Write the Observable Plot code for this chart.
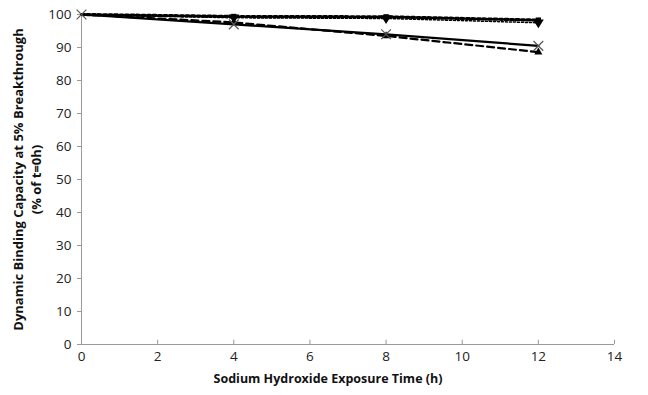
<!DOCTYPE html>
<html>
<head>
<meta charset="utf-8">
<script src="https://cdn.jsdelivr.net/npm/d3@7"></script>
<script src="https://cdn.jsdelivr.net/npm/@observablehq/plot@0.6"></script>
<style>
  body { margin: 0; background: #fff; }
  svg { font-family: "Open Sans", "Liberation Sans", sans-serif; }
</style>
</head>
<body>
<div id="chart"></div>
<script>
const times = [0, 4, 8, 12];
const squareSeries = [100, 99.4, 99.3, 98.3];
const downSeries = [100, 99.0, 98.8, 97.5];
const crossSeries = [100, 97.0, 94.0, 90.5];
const triangleSeries = [100, 97.6, 93.5, 88.6];
const xTicks = [0, 2, 4, 6, 8, 10, 12, 14];
const yTicks = [0, 10, 20, 30, 40, 50, 60, 70, 80, 90, 100];
const xLabel = "Sodium Hydroxide Exposure Time (h)";
const yLabel1 = "Dynamic Binding Capacity at 5% Breakthrough";
const yLabel2 = "(% of t=0h)";

const toRows = (vals) => times.map((t, i) => ({t, v: vals[i]}));
const sq = toRows(squareSeries), dn = toRows(downSeries), cr = toRows(crossSeries), tr = toRows(triangleSeries);

const downTriangle = {
  draw(ctx, size) {
    const r = Math.sqrt(size / 1.3);
    ctx.moveTo(-r, -r * 0.6);
    ctx.lineTo(r, -r * 0.6);
    ctx.lineTo(0, r);
    ctx.closePath();
  }
};

const chart = Plot.plot({
  width: 648,
  height: 395,
  marginLeft: 81,
  marginRight: 34,
  marginTop: 14,
  marginBottom: 51,
  x: {domain: [0, 14]},
  y: {domain: [0, 100]},
  marks: [
    Plot.ruleY([0], {stroke: "#999"}),
    Plot.ruleX([0], {stroke: "#999"}),
    Plot.axisX({ticks: xTicks, tickSize: 0, tickPadding: 7, fontSize: 13.5, label: null, color: "#222"}),
    Plot.ruleX(xTicks, {x: d => d, y1: 0, y2: 1.3, stroke: "#999"}),
    Plot.axisY({ticks: yTicks, tickSize: 4, tickPadding: 6, fontSize: 13.5, label: null, stroke: "#999", color: "#222"}),
    Plot.line(cr, {x: "t", y: "v", stroke: "black", strokeWidth: 2.2}),
    Plot.line(tr, {x: "t", y: "v", stroke: "black", strokeWidth: 2.2, strokeDasharray: "7,4"}),
    Plot.line(dn, {x: "t", y: "v", stroke: "black", strokeWidth: 1.5, strokeDasharray: "2,2"}),
    Plot.line(sq, {x: "t", y: "v", stroke: "black", strokeWidth: 3.2, strokeDasharray: "3,2.5"}),
    Plot.dot(tr, {x: "t", y: "v", symbol: "triangle", fill: "black", r: 3, filter: d => d.t > 0}),
    Plot.dot(dn, {x: "t", y: "v", symbol: downTriangle, fill: "black", r: 3.5, filter: d => d.t > 0}),
    Plot.dot(sq, {x: "t", y: "v", symbol: "square", fill: "black", r: 3, filter: d => d.t > 0}),
    Plot.dot(cr, {x: "t", y: "v", symbol: "times", stroke: "#555", strokeWidth: 1.2, r: 4.5}),
    Plot.text([xLabel], {frameAnchor: "bottom", lineAnchor: "middle", dy: 34, dx: -20, fontSize: 12.5, fontWeight: "bold", fill: "#111"}),
    Plot.text([yLabel1], {frameAnchor: "left", textAnchor: "middle", lineAnchor: "middle", rotate: -90, dx: -63, fontSize: 13, fontWeight: "bold", fill: "#111"}),
    Plot.text([yLabel2], {frameAnchor: "left", textAnchor: "middle", lineAnchor: "middle", rotate: -90, dx: -45, fontSize: 13, fontWeight: "bold", fill: "#111"})
  ]
});
document.getElementById("chart").appendChild(chart);
</script>
</body>
</html>
